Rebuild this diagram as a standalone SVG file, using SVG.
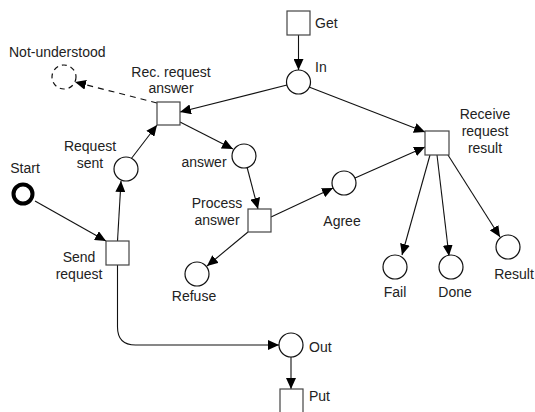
<svg xmlns="http://www.w3.org/2000/svg" width="535" height="412" viewBox="0 0 535 412">
<defs>
<marker id="arr" markerUnits="userSpaceOnUse" markerWidth="12" markerHeight="10" refX="11" refY="5" orient="auto">
<path d="M0,0 L11,5 L0,10 Z" fill="#000"/>
</marker>
</defs>
<style>
.t{fill:#ffffff;stroke:#444;stroke-width:1.2}
.p{fill:#ffffff;stroke:#111;stroke-width:1.2}
.c{fill:none;stroke:#111;stroke-width:1.1}
text{font-family:"Liberation Sans",Arial,sans-serif;font-size:14px;fill:#222}
.m{text-anchor:middle}
</style>
<rect width="535" height="412" fill="#fff"/>
<g id="connectors">
<line class="c" x1="298.5" y1="35" x2="298.5" y2="70" marker-end="url(#arr)"/>
<line class="c" x1="287" y1="85" x2="180" y2="112" marker-end="url(#arr)"/>
<line class="c" x1="309" y1="87" x2="425" y2="132" marker-end="url(#arr)"/>
<line class="c" x1="157" y1="103" x2="75" y2="82" stroke-dasharray="6,5" marker-end="url(#arr)"/>
<line class="c" x1="180" y1="122" x2="233" y2="149" marker-end="url(#arr)"/>
<line class="c" x1="131" y1="159" x2="157" y2="125" marker-end="url(#arr)"/>
<line class="c" x1="117.5" y1="241" x2="121" y2="181" marker-end="url(#arr)"/>
<line class="c" x1="35" y1="201" x2="106" y2="241" marker-end="url(#arr)"/>
<line class="c" x1="247" y1="167" x2="258" y2="209" marker-end="url(#arr)"/>
<line class="c" x1="271" y1="217" x2="333" y2="188" marker-end="url(#arr)"/>
<line class="c" x1="355" y1="178" x2="425" y2="147" marker-end="url(#arr)"/>
<line class="c" x1="248" y1="232" x2="207" y2="266" marker-end="url(#arr)"/>
<line class="c" x1="430" y1="155" x2="402" y2="255" marker-end="url(#arr)"/>
<line class="c" x1="437" y1="155" x2="449" y2="256" marker-end="url(#arr)"/>
<line class="c" x1="448" y1="155" x2="500" y2="237" marker-end="url(#arr)"/>
<path class="c" d="M117.5,265 V327 Q117.5,345 135.5,345 H279" marker-end="url(#arr)"/>
<line class="c" x1="291" y1="357" x2="291" y2="389" marker-end="url(#arr)"/>
</g>
<g id="get"><rect class="t" x="287" y="11" width="23" height="24"/><text x="315" y="28">Get</text></g>
<g id="in"><circle class="p" cx="298.5" cy="82" r="12"/><text x="315" y="72">In</text></g>
<g id="not-understood"><circle class="p" cx="64" cy="77" r="12" stroke-dasharray="5,4"/><text x="9" y="57">Not-understood</text></g>
<g id="rec-request-answer"><rect class="t" x="157" y="102" width="23" height="23"/><text class="m" x="171" y="77">Rec. request</text><text class="m" x="171" y="93">answer</text></g>
<g id="request-sent"><circle class="p" cx="126" cy="169" r="12"/><text class="m" x="90" y="151">Request</text><text class="m" x="90" y="168">sent</text></g>
<g id="answer"><circle class="p" cx="244" cy="156" r="12"/><text class="m" x="204" y="167">answer</text></g>
<g id="start"><circle cx="23" cy="194" r="9.5" fill="#fff" stroke="#000" stroke-width="4"/><text class="m" x="25" y="173">Start</text></g>
<g id="send-request"><rect class="t" x="106" y="241" width="23" height="24"/><text class="m" x="79" y="262">Send</text><text class="m" x="79" y="279">request</text></g>
<g id="process-answer"><rect class="t" x="248" y="209" width="23" height="23"/><text class="m" x="217" y="208">Process</text><text class="m" x="217" y="225">answer</text></g>
<g id="agree"><circle class="p" cx="344" cy="183" r="12"/><text class="m" x="342" y="226">Agree</text></g>
<g id="refuse"><circle class="p" cx="197" cy="274" r="12"/><text class="m" x="194" y="301">Refuse</text></g>
<g id="receive-request-result"><rect class="t" x="425" y="131" width="24" height="24"/><text class="m" x="485" y="119">Receive</text><text class="m" x="485" y="136">request</text><text class="m" x="485" y="153">result</text></g>
<g id="fail"><circle class="p" cx="395" cy="267" r="12"/><text class="m" x="395" y="297">Fail</text></g>
<g id="done"><circle class="p" cx="451" cy="267" r="12"/><text class="m" x="455" y="297">Done</text></g>
<g id="result"><circle class="p" cx="508" cy="247" r="12"/><text class="m" x="514" y="279">Result</text></g>
<g id="out"><circle class="p" cx="291" cy="345" r="12"/><text x="309" y="352">Out</text></g>
<g id="put"><rect class="t" x="280" y="389" width="23" height="24"/><text x="309" y="401">Put</text></g>
</svg>
